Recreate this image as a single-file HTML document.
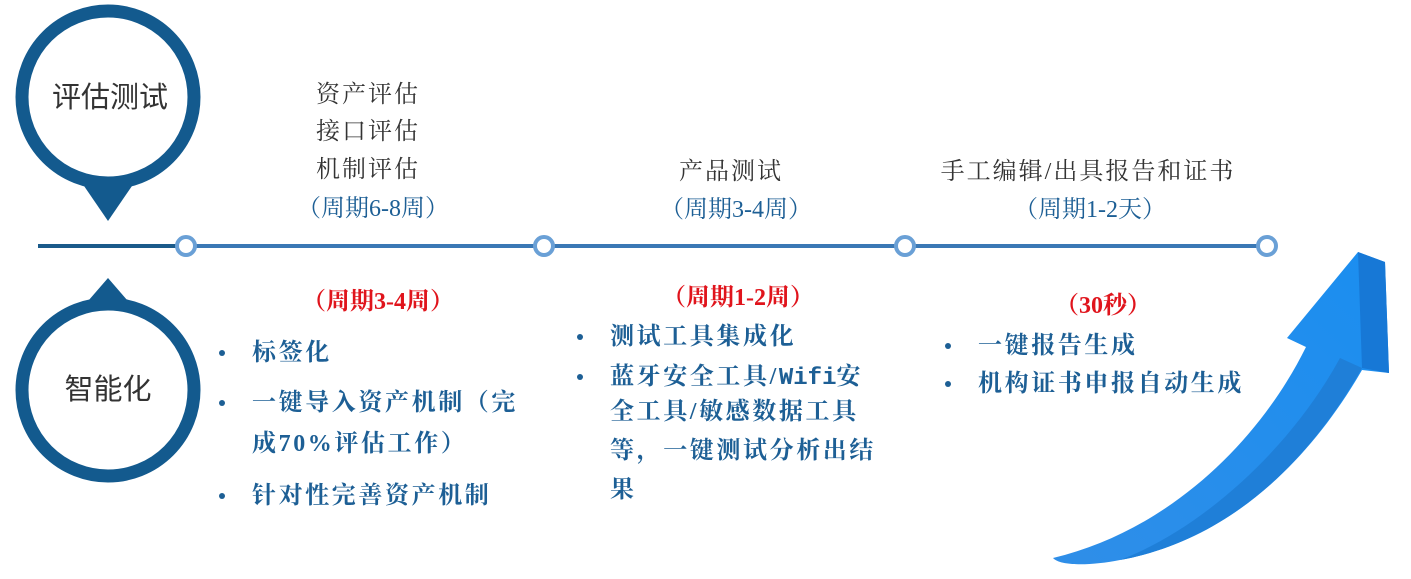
<!DOCTYPE html>
<html><head><meta charset="utf-8"><style>
body{margin:0;width:1411px;height:579px;background:#fff;position:relative;overflow:hidden;font-family:"Liberation Serif","Noto Serif CJK SC",serif}
.t{position:absolute;white-space:nowrap;font-size:24px;line-height:24px}
.c{transform:translateX(-50%)}
.g{color:#333;font-size:24px;letter-spacing:2px}.b{color:#1d5f95}.r{color:#e0141c;font-weight:bold}
.bl{color:#1d5f95;font-weight:bold;font-family:"Liberation Serif","Noto Serif CJK SC",serif;font-size:24px;letter-spacing:2.6px}
.dot{position:absolute;width:6px;height:6px;border-radius:50%;background:#1d5f95}
</style></head><body>
<svg width="1411" height="579" style="position:absolute;left:0;top:0">
<defs><linearGradient id="ag" x1="0" y1="1" x2="1" y2="0"><stop offset="0" stop-color="#2f8ee8"/><stop offset="1" stop-color="#1a8ef0"/></linearGradient></defs>
<circle cx="108" cy="97" r="86" fill="#fff" stroke="#135a8e" stroke-width="13"/>
<polygon points="82,183 134,183 108,221" fill="#135a8e"/>
<circle cx="108" cy="390" r="86" fill="#fff" stroke="#135a8e" stroke-width="13"/>
<polygon points="82,308 134,308 108,278" fill="#135a8e"/>
<line x1="38" y1="246" x2="176" y2="246" stroke="#1a5a8a" stroke-width="4"/>
<line x1="176" y1="246" x2="1267" y2="246" stroke="#3a78b5" stroke-width="4"/>
<g fill="#fff" stroke="#6aa0d6" stroke-width="4">
<circle cx="186" cy="246" r="9"/><circle cx="544" cy="246" r="9"/><circle cx="905" cy="246" r="9"/><circle cx="1267" cy="246" r="9"/></g>
<path d="M1358,252 L1287,338 L1306,347 C1260,440 1170,530 1053,558 C1060,566 1090,566 1120,560 C1230,540 1310,460 1362,370 L1389,373 L1385,262 Z" fill="url(#ag)"/>
<path d="M1358,252 L1385,262 L1389,373 L1362,368 Z" fill="#1778d6"/>
<path d="M1340,358 L1362,368 C1310,460 1230,540 1120,560 C1200,530 1290,450 1340,358Z" fill="#1f7fd8"/>
</svg>
<div class="t c" style="left:110px;top:84px;font-size:29px;line-height:29px;color:#333;font-family:'Liberation Sans','Noto Sans CJK SC',sans-serif">评估测试</div>
<div class="t c" style="left:108px;top:376px;font-size:29px;line-height:29px;color:#333;font-family:'Liberation Sans','Noto Sans CJK SC',sans-serif">智能化</div>
<div class="t c g" style="left:368px;top:83px">资产评估</div>
<div class="t c g" style="left:368px;top:120px">接口评估</div>
<div class="t c g" style="left:368px;top:158px">机制评估</div>
<div class="t c b" style="left:373px;top:197px">（周期6-8周）</div>
<div class="t c g" style="left:731px;top:160px">产品测试</div>
<div class="t c b" style="left:736px;top:198px">（周期3-4周）</div>
<div class="t c g" style="left:1088px;top:160px">手工编辑/出具报告和证书</div>
<div class="t c b" style="left:1090px;top:198px">（周期1-2天）</div>
<div class="t c r" style="left:378px;top:290px">（周期3-4周）</div>
<div class="t c r" style="left:738px;top:286px">（周期1-2周）</div>
<div class="t c r" style="left:1103px;top:294px">（30秒）</div>
<div class="dot" style="left:219px;top:350px"></div><div class="t bl" style="left:252px;top:341px">标签化</div>
<div class="dot" style="left:219px;top:400px"></div><div class="t bl" style="left:252px;top:391px">一键导入资产机制（完</div>
<div class="t bl" style="left:252px;top:432px">成70%评估工作）</div>
<div class="dot" style="left:219px;top:493px"></div><div class="t bl" style="left:252px;top:484px">针对性完善资产机制</div>
<div class="dot" style="left:577px;top:334px"></div><div class="t bl" style="left:610px;top:325px">测试工具集成化</div>
<div class="dot" style="left:577px;top:374px"></div><div class="t bl" style="left:610px;top:365px">蓝牙安全工具/<span style="font-family:'Liberation Mono',monospace;letter-spacing:0">Wifi</span>安</div>
<div class="t bl" style="left:610px;top:400px">全工具/敏感数据工具</div>
<div class="t bl" style="left:610px;top:439px">等，一键测试分析出结</div>
<div class="t bl" style="left:610px;top:478px">果</div>
<div class="dot" style="left:945px;top:343px"></div><div class="t bl" style="left:978px;top:334px">一键报告生成</div>
<div class="dot" style="left:945px;top:381px"></div><div class="t bl" style="left:978px;top:372px">机构证书申报自动生成</div>
</body></html>
